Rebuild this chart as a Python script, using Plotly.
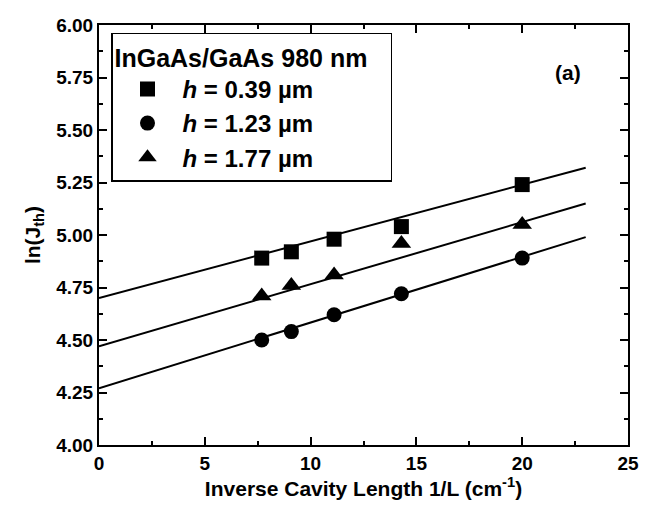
import plotly.graph_objects as go

inv_L = [7.69, 9.09, 11.11, 14.29, 20.0]
ln_j_039 = [4.89, 4.92, 4.98, 5.04, 5.24]
ln_j_123 = [4.50, 4.54, 4.62, 4.72, 4.89]
ln_j_177 = [4.71, 4.76, 4.81, 4.96, 5.05]

fit_x = [0, 23]
fit_039 = [4.70, 5.32]
fit_123 = [4.27, 4.99]
fit_177 = [4.47, 5.15]

labels = ["<i>h</i> = 0.39 µm", "<i>h</i> = 1.23 µm", "<i>h</i> = 1.77 µm"]
symbols = ["square", "circle", "triangle-up"]

FONT = "Liberation Sans, Arial, sans-serif"

fig = go.Figure()
for fy in [fit_039, fit_123, fit_177]:
    fig.add_trace(go.Scatter(x=fit_x, y=fy, mode="lines",
                             line=dict(color="black", width=2),
                             showlegend=False, hoverinfo="skip"))

for ys, lab, sym in zip([ln_j_039, ln_j_123, ln_j_177], labels, symbols):
    fig.add_trace(go.Scatter(x=inv_L, y=ys, mode="markers", name=lab,
                             marker=dict(symbol=sym, color="black",
                                         size=15 if sym != "triangle-up" else 17,
                                         line=dict(width=0))))

axis_common = dict(showline=True, linecolor="black", linewidth=2, mirror="ticks",
                   ticks="inside", ticklen=8, tickwidth=1.5, tickcolor="black",
                   showgrid=False, zeroline=False, ticklabeloverflow="allow",
                   tickfont=dict(family=FONT, size=19, color="black", weight="bold"))

fig.update_xaxes(range=[0, 25], dtick=5,
                 minor=dict(ticks="inside", ticklen=4, dtick=2.5, tickcolor="black", tickwidth=1.5),
                 title=dict(text="Inverse Cavity Length 1/L (cm<sup>-1</sup>)",
                            font=dict(family=FONT, size=21, color="black", weight="bold"), standoff=6),
                 **axis_common)
fig.update_yaxes(range=[4.0, 6.0], dtick=0.25, tickformat=".2f",
                 minor=dict(ticks="inside", ticklen=4, dtick=0.125, tickcolor="black", tickwidth=1.5),
                 title=dict(text="ln(J<sub>th</sub>)",
                            font=dict(family=FONT, size=21, color="black", weight="bold"), standoff=10),
                 **axis_common)

fig.add_annotation(x=(583 - 99) / 529, y=1 - (50 - 15) / 430, xref="x domain", yref="y domain",
                   text="(a)", showarrow=False,
                   font=dict(family=FONT, size=21, color="black", weight="bold"))

fig.update_layout(
    width=650, height=508,
    margin=dict(l=91, r=30, t=7, b=71),
    paper_bgcolor="white", plot_bgcolor="white",
    legend=dict(x=(111 - 99) / 529, y=1 - (23 - 15) / 430, xanchor="left", yanchor="top",
                bordercolor="black", borderwidth=1.5, bgcolor="white",
                title=dict(text="InGaAs/GaAs 980 nm\u00a0\u00a0\u00a0",
                           font=dict(family=FONT, size=25, color="black", weight="bold")),
                font=dict(family=FONT, size=24, color="black", weight="bold"),
                itemsizing="trace", itemwidth=60, tracegroupgap=0),
)

fig.write_html("out.html")
